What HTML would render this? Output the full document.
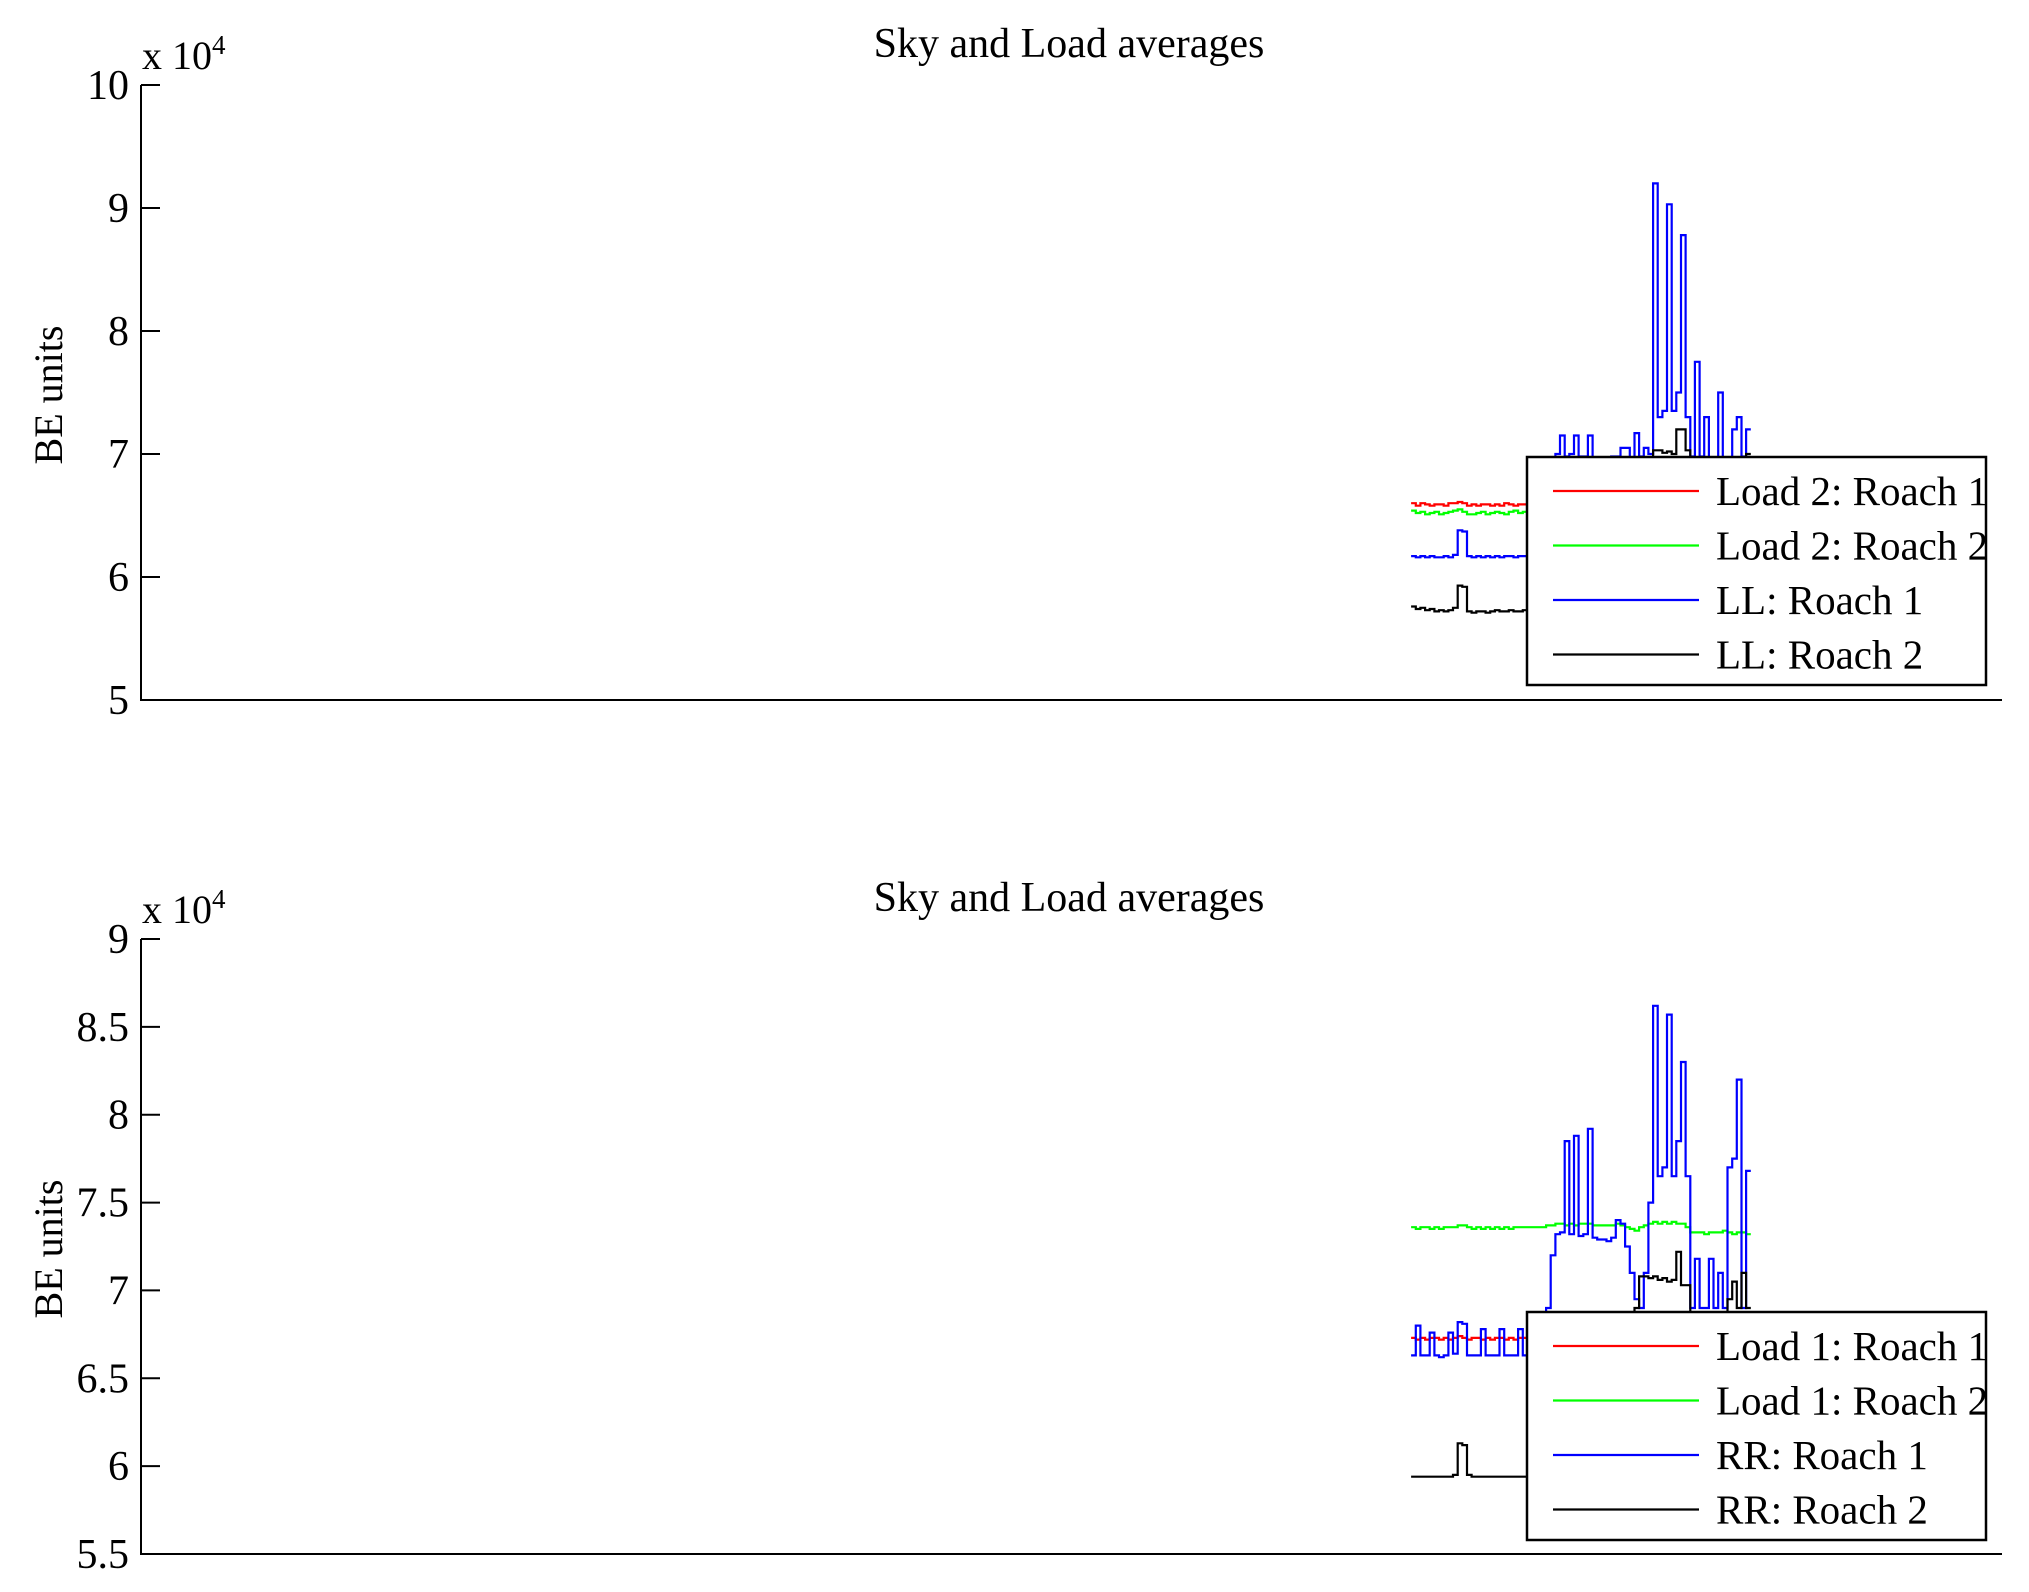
<!DOCTYPE html>
<html><head><meta charset="utf-8"><style>
html,body{margin:0;padding:0;background:#fff}
svg{display:block}
text{font-family:"Liberation Serif",serif;fill:#000}
</style></head><body>
<svg id="fig" width="2029" height="1592" viewBox="0 0 2029 1592"></svg>
<script>
// ---- data (values in units of 1e4) ----
const startIndex = 273;
const topTicks = [5,6,7,8,9,10];
const topTickLabels = ["5","6","7","8","9","10"];
const botTicks = [5.5,6,6.5,7,7.5,8,8.5,9];
const botTickLabels = ["5.5","6","6.5","7","7.5","8","8.5","9"];
const topNames = ["Load 2: Roach 1","Load 2: Roach 2","LL: Roach 1","LL: Roach 2"];
const botNames = ["Load 1: Roach 1","Load 1: Roach 2","RR: Roach 1","RR: Roach 2"];
const top_red = [6.6,6.58,6.6,6.59,6.58,6.59,6.59,6.58,6.6,6.6,6.61,6.6,6.58,6.59,6.58,6.59,6.59,6.58,6.59,6.58,6.6,6.59,6.58,6.59,6.59,6.6,6.6,6.6,6.6,6.6,6.6,6.6,6.6,6.6,6.6,6.6,6.6,6.6,6.6,6.6,6.6,6.6,6.6,6.6,6.6,6.6,6.6,6.6,6.6,6.6,6.6,6.6,6.6,6.6,6.6,6.6,6.6,6.6,6.6,6.6,6.6,6.6,6.6,6.6,6.6,6.6,6.6,6.6,6.6,6.6,6.6,6.6,6.6];
const top_green = [6.54,6.52,6.53,6.51,6.52,6.53,6.51,6.52,6.53,6.54,6.55,6.53,6.51,6.51,6.52,6.53,6.51,6.52,6.53,6.52,6.51,6.53,6.54,6.52,6.53,6.53,6.53,6.53,6.53,6.53,6.53,6.53,6.53,6.53,6.53,6.53,6.53,6.53,6.53,6.53,6.53,6.53,6.53,6.53,6.53,6.53,6.53,6.53,6.53,6.53,6.53,6.53,6.53,6.53,6.53,6.53,6.53,6.53,6.53,6.53,6.53,6.53,6.53,6.53,6.53,6.53,6.53,6.53,6.53,6.53,6.53,6.53,6.53];
const top_blue = [6.17,6.16,6.17,6.16,6.17,6.16,6.16,6.17,6.16,6.18,6.38,6.37,6.17,6.16,6.17,6.16,6.17,6.16,6.17,6.16,6.17,6.17,6.16,6.17,6.17,6.5,6.7,6.9,6.95,6.95,6.97,7.0,7.15,6.98,7.0,7.15,6.98,6.98,7.15,6.97,6.96,6.96,6.97,6.98,6.98,7.05,7.05,6.97,7.17,6.98,7.05,7.0,9.2,7.3,7.35,9.03,7.35,7.5,8.78,7.3,6.98,7.75,6.98,7.3,6.97,6.97,7.5,6.97,6.96,7.2,7.3,6.98,7.2];
const top_black = [5.76,5.74,5.75,5.73,5.74,5.72,5.73,5.72,5.73,5.75,5.93,5.92,5.72,5.71,5.72,5.72,5.71,5.72,5.73,5.72,5.72,5.73,5.72,5.72,5.73,6.6,6.6,6.6,6.6,6.6,6.6,6.6,6.6,6.6,6.6,6.6,6.6,6.6,6.6,6.6,6.6,6.6,6.6,6.6,6.6,6.6,6.6,6.6,6.6,6.6,6.6,6.9,7.03,7.03,7.01,7.02,7.0,7.2,7.2,7.03,6.95,6.95,6.95,6.95,6.95,6.95,6.95,6.95,6.95,6.95,6.95,6.95,7.0];
const bot_red = [6.73,6.72,6.73,6.72,6.73,6.73,6.72,6.73,6.72,6.73,6.74,6.73,6.72,6.73,6.73,6.72,6.73,6.72,6.73,6.73,6.72,6.73,6.72,6.73,6.73,6.73,6.73,6.73,6.73,6.73,6.73,6.73,6.73,6.73,6.73,6.73,6.73,6.73,6.73,6.73,6.73,6.73,6.73,6.73,6.73,6.73,6.73,6.73,6.73,6.73,6.73,6.73,6.73,6.73,6.73,6.73,6.73,6.73,6.73,6.73,6.73,6.73,6.73,6.73,6.73,6.73,6.73,6.73,6.73,6.73,6.73,6.73,6.73];
const bot_green = [7.36,7.35,7.36,7.36,7.35,7.36,7.35,7.36,7.36,7.36,7.37,7.37,7.36,7.35,7.36,7.35,7.36,7.35,7.36,7.35,7.36,7.35,7.36,7.36,7.36,7.36,7.36,7.36,7.36,7.37,7.37,7.38,7.38,7.37,7.38,7.37,7.38,7.38,7.38,7.37,7.37,7.37,7.37,7.37,7.38,7.37,7.36,7.35,7.34,7.36,7.37,7.38,7.39,7.38,7.39,7.38,7.39,7.38,7.38,7.36,7.33,7.33,7.33,7.32,7.33,7.33,7.33,7.34,7.33,7.32,7.33,7.33,7.32];
const bot_blue = [6.63,6.8,6.63,6.63,6.76,6.63,6.62,6.63,6.76,6.64,6.82,6.81,6.63,6.63,6.63,6.78,6.63,6.63,6.63,6.78,6.63,6.63,6.63,6.78,6.63,6.7,6.75,6.8,6.85,6.9,7.2,7.32,7.33,7.85,7.32,7.88,7.31,7.32,7.92,7.3,7.29,7.29,7.28,7.3,7.4,7.38,7.25,7.1,6.95,6.9,7.1,7.5,8.62,7.65,7.7,8.57,7.65,7.85,8.3,7.65,6.9,7.18,6.9,6.9,7.18,6.9,7.1,6.9,7.7,7.75,8.2,6.9,7.68];
const bot_black = [5.94,5.94,5.94,5.94,5.94,5.94,5.94,5.94,5.94,5.95,6.13,6.12,5.95,5.94,5.94,5.94,5.94,5.94,5.94,5.94,5.94,5.94,5.94,5.94,5.94,6.5,6.5,6.5,6.5,6.5,6.5,6.5,6.5,6.5,6.5,6.5,6.5,6.5,6.5,6.5,6.5,6.5,6.5,6.5,6.5,6.5,6.5,6.5,6.9,7.08,7.08,7.07,7.08,7.06,7.07,7.05,7.06,7.22,7.03,7.03,6.85,6.85,6.85,6.85,6.85,6.85,6.85,6.85,6.95,7.05,6.9,7.1,6.9];

const NS="http://www.w3.org/2000/svg";
const svg=document.getElementById('fig');
function el(tag,attrs,parent){const e=document.createElementNS(NS,tag);for(const k in attrs)e.setAttribute(k,attrs[k]);(parent||svg).appendChild(e);return e;}
const X0=141,X1=2002,XMAX=400;
function xs(i){return X0+(startIndex+i)/XMAX*(X1-X0);}

function panel(cfg){
  const g=el('g',{});
  
  
  const ys=v=>cfg.yTop+(cfg.vMax-v)/(cfg.vMax-cfg.vMin)*(cfg.yBot-cfg.yTop);
  const colors=['#ff0000','#00ff00','#0000ff','#000000'];
  cfg.series.forEach((arr,si)=>{
    let d='';
    arr.forEach((v,i)=>{const x=xs(i),y=ys(v);d+=(i===0?'M':'L')+x.toFixed(1)+','+y.toFixed(1)+'L'+xs(i+1).toFixed(1)+','+y.toFixed(1);});
    const p=el('path',{d:d,fill:'none',stroke:colors[si],'stroke-width':2.2},g);
    
    
  });
  const ax=el('path',{d:`M${X0},${cfg.yTop}L${X0},${cfg.yBot}L${X1},${cfg.yBot}`,fill:'none',stroke:'#000','stroke-width':2},g);
  
  
  cfg.ticks.forEach((t,k)=>{
    const y=ys(t);
    el('line',{x1:X0,x2:X0+19,y1:y,y2:y,stroke:'#000','stroke-width':2},g);
    const tx=el('text',{x:X0-12,y:y+14,'font-size':42,'text-anchor':'end'},g);
    tx.textContent=cfg.tickLabels[k];
    
    
  });
  const ex=el('text',{x:X0+1,y:cfg.yTop-16,'font-size':40},g);
  ex.innerHTML='x 10<tspan dy="-15" font-size="27">4</tspan>';
  
  
  const tt=el('text',{x:1069,y:cfg.titleY,'font-size':42,'text-anchor':'middle'},g);
  tt.textContent='Sky and Load averages';
  
  
  const yl=el('text',{x:0,y:0,'font-size':40,'text-anchor':'middle',transform:`translate(62,${cfg.ylabelY}) rotate(-90)`},g);
  yl.textContent='BE units';
  
  
  const lg=el('g',{},g);
  
  
  el('rect',{x:1527,y:cfg.legY,width:459,height:228,fill:'#fff',stroke:'#000','stroke-width':2.5},lg);
  cfg.names.forEach((n,k)=>{
    const ry=cfg.legY+34+k*54.5;
    el('line',{x1:1553,x2:1699,y1:ry,y2:ry,stroke:colors[k],'stroke-width':2.2},lg);
    const t=el('text',{x:1716,y:ry+14,'font-size':41},lg);
    t.textContent=n;
    
    
  });
}
panel({name:'top-panel',yTop:85,yBot:700,vMin:5,vMax:10,ticks:topTicks,tickLabels:topTickLabels,titleY:57,ylabelY:395,legY:457,names:topNames,series:[top_red,top_green,top_blue,top_black]});
panel({name:'bottom-panel',yTop:939,yBot:1554,vMin:5.5,vMax:9,ticks:botTicks,tickLabels:botTickLabels,titleY:911,ylabelY:1249,legY:1312,names:botNames,series:[bot_red,bot_green,bot_blue,bot_black]});
</script>
</body></html>
